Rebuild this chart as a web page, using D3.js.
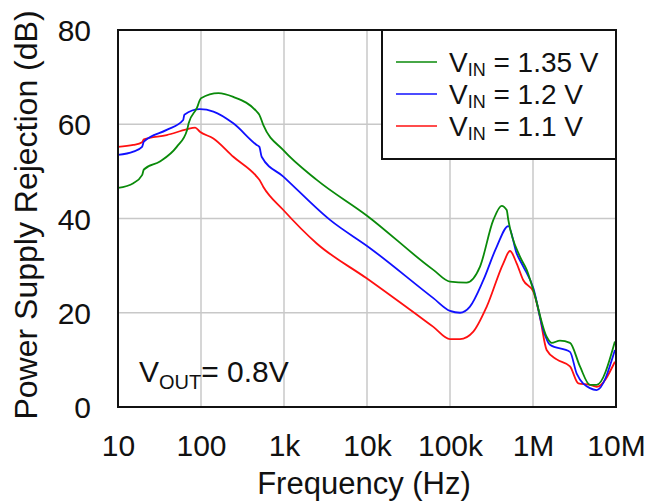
<!DOCTYPE html>
<html>
<head>
<meta charset="utf-8">
<script src="https://cdn.jsdelivr.net/npm/d3@7"></script>
<style>
  body { margin: 0; background: #fff; }
  text { font-family: "Liberation Sans", Arial, sans-serif; fill: #111; }
</style>
</head>
<body>
<svg id="chart" width="650" height="501"></svg>
<script>
// ---- data ----
const xTicks = [1e1, 1e2, 1e3, 1e4, 1e5, 1e6, 1e7];
const xTickLabels = ["10", "100", "1k", "10k", "100k", "1M", "10M"];
const yTicks = [0, 20, 40, 60, 80];

const seriesNames = ["1.35 V", "1.2 V", "1.1 V"];
const seriesColors = ["#0a8a0a", "#1010ff", "#ff1010"];

const freq135 = [10, 15.3, 19.5, 20.5, 32, 51, 68, 71, 89, 100, 162, 245, 469, 505, 564, 982, 2480, 10000, 63000, 100000, 158000, 230000, 333000, 419000, 482000, 504000, 697000, 840000, 1010000, 1460000, 1680000, 2110000, 2790000, 3680000, 4860000, 5850000, 9700000];
const psrr135 = [46.5, 47.5, 49.2, 50.4, 52.1, 55.2, 58.8, 60.2, 63.4, 65.5, 66.6, 65.8, 62.7, 62.0, 59.8, 54.5, 48.2, 40.6, 29.1, 26.6, 26.4, 29.8, 39.7, 42.7, 41.8, 39.7, 31.9, 29.1, 24.8, 14.9, 13.6, 14.1, 13.6, 8.6, 4.7, 4.7, 13.9];

const freq12 = [10, 15.3, 19.5, 20.5, 38.6, 61, 63, 97, 141, 245, 469, 505, 538, 982, 3580, 10900, 63000, 100000, 132000, 174000, 252000, 365000, 504000, 635000, 764000, 1010000, 1330000, 1600000, 2790000, 3360000, 4860000, 5850000, 9700000];
const psrr12 = [53.5, 54.2, 55.2, 56.3, 58.8, 60.9, 62.0, 63.2, 62.7, 60.2, 55.6, 55.2, 53.1, 48.9, 39.7, 33.7, 23.1, 20.4, 20.0, 21.3, 26.9, 34.0, 38.4, 32.6, 29.8, 25.2, 16.3, 13.2, 11.7, 7.1, 4.0, 3.6, 12.1];

const freq11 = [10, 15.3, 19.5, 20.5, 38.6, 67, 85, 97, 141, 245, 469, 505, 564, 982, 2480, 9900, 63000, 100000, 132000, 191000, 277000, 439000, 528000, 635000, 764000, 1010000, 1210000, 1460000, 1930000, 2790000, 3520000, 4860000, 5850000, 9700000];
const psrr11 = [55.2, 55.6, 56.2, 56.8, 57.7, 58.9, 59.3, 58.4, 57.0, 53.1, 48.9, 48.2, 46.7, 41.8, 34.7, 27.3, 17.0, 14.4, 14.4, 16.0, 21.3, 30.5, 33.1, 30.5, 26.9, 24.5, 19.2, 12.1, 10.1, 8.6, 5.0, 4.7, 4.3, 9.6];

const seriesFreqs = [freq135, freq12, freq11];
const seriesVals = [psrr135, psrr12, psrr11];

// ---- layout ----
const svg = d3.select("#chart");
const L = 118, R = 616, T = 30, B = 407;

const x = d3.scaleLog().domain([1e1, 1e7]).range([L, R]);
const y = d3.scaleLinear().domain([0, 80]).range([B, T]);

// grid
const grid = svg.append("g");
grid.selectAll("line.vx").data(xTicks).join("line")
  .attr("x1", d => x(d)).attr("x2", d => x(d))
  .attr("y1", T).attr("y2", B)
  .attr("stroke", "#c8c8c8").attr("stroke-width", 1.5);
grid.selectAll("line.hy").data(yTicks).join("line")
  .attr("x1", L).attr("x2", R)
  .attr("y1", d => y(d)).attr("y2", d => y(d))
  .attr("stroke", "#c8c8c8").attr("stroke-width", 1.5);

// axes (labels only)
const xAxis = d3.axisBottom(x).tickValues(xTicks)
  .tickFormat((d, i) => xTickLabels[i]).tickSize(0).tickPadding(0);
const gx = svg.append("g").attr("transform", `translate(0,${B})`).call(xAxis);
gx.select(".domain").remove();
gx.selectAll("text").attr("font-size", 30).attr("dy", null).attr("y", 49)
  .attr("fill", "#111").style("font-family", '"Liberation Sans", Arial, sans-serif');

const yAxis = d3.axisLeft(y).tickValues(yTicks).tickSize(0).tickPadding(0);
const gy = svg.append("g").attr("transform", `translate(${L},0)`).call(yAxis);
gy.select(".domain").remove();
gy.selectAll("text").attr("font-size", 30).attr("x", -27).attr("dy", "0.35em")
  .attr("fill", "#111").style("font-family", '"Liberation Sans", Arial, sans-serif');

// lines
const line = d3.line().x(d => x(d[0])).y(d => y(d[1])).curve(d3.curveMonotoneX);
svg.append("clipPath").attr("id", "clip").append("rect")
  .attr("x", L).attr("y", T).attr("width", R - L).attr("height", B - T);
const lines = svg.append("g").attr("clip-path", "url(#clip)");
[2, 1, 0].forEach(i => {
  const pts = seriesFreqs[i].map((f, j) => [f, seriesVals[i][j]]);
  lines.append("path").attr("d", line(pts))
    .attr("fill", "none").attr("stroke", seriesColors[i]).attr("stroke-width", 1.8);
});

// frame
svg.append("rect").attr("x", L).attr("y", T).attr("width", R - L).attr("height", B - T)
  .attr("fill", "none").attr("stroke", "#111").attr("stroke-width", 2);

// legend
const lg = svg.append("g");
lg.append("rect").attr("x", 382).attr("y", T).attr("width", R - 382).attr("height", 129)
  .attr("fill", "#fff").attr("stroke", "#111").attr("stroke-width", 2);
seriesNames.forEach((name, i) => {
  const cy = 62 + i * 32;
  lg.append("line").attr("x1", 396).attr("x2", 437).attr("y1", cy).attr("y2", cy)
    .attr("stroke", seriesColors[i]).attr("stroke-width", 1.6);
  const t = lg.append("text").attr("x", 449).attr("y", cy + 10).attr("font-size", 28);
  t.append("tspan").text("V");
  t.append("tspan").attr("font-size", 18).attr("dy", 4).text("IN");
  t.append("tspan").attr("dy", -4).text(" = " + name);
});

// annotation
const ann = svg.append("text").attr("x", 139).attr("y", 382).attr("font-size", 30);
ann.append("tspan").text("V");
ann.append("tspan").attr("font-size", 20).attr("dy", 7).text("OUT");
ann.append("tspan").attr("dy", -7).text("= 0.8V");

// axis titles
svg.append("text").attr("x", (L + R) / 2 - 3).attr("y", 494).attr("text-anchor", "middle")
  .attr("font-size", 31).text("Frequency (Hz)");
svg.append("text").attr("transform", `translate(37,215) rotate(-90)`)
  .attr("text-anchor", "middle").attr("font-size", 32).text("Power Supply Rejection (dB)");
</script>
</body>
</html>
